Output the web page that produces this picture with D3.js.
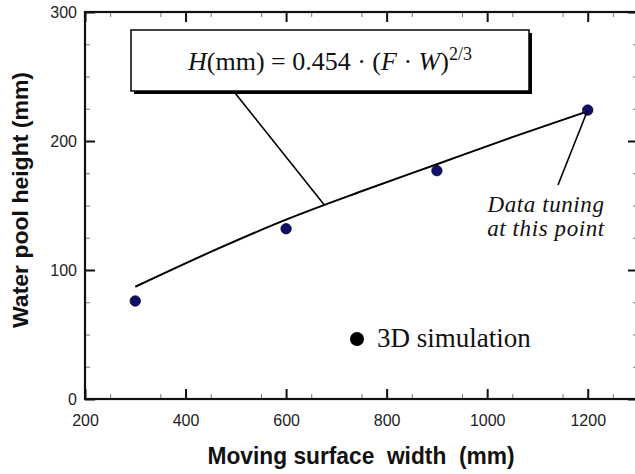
<!DOCTYPE html>
<html><head><meta charset="utf-8">
<script src="https://cdn.jsdelivr.net/npm/d3@7"></script>
<style>
html,body{margin:0;padding:0;background:#fff;}
svg{display:block;}
</style></head>
<body>
<svg id="chart" width="635" height="474"></svg>
<script>
// Data
const simWidths = [300, 600, 900, 1200];
const simHeights = [76, 132, 177, 224];
const fitWidths = [300, 450, 600, 750, 900, 1050, 1200];
const fitHeights = [87, 114, 139, 161, 182, 203, 223];
const xTicks = [200, 400, 600, 800, 1000, 1200];
const yTicks = [0, 100, 200, 300];
const formulaAnchor = [675, 151];   // where the formula leader touches the fit line
const tuningIndex = 3;              // the point used for data tuning

const svg = d3.select("#chart");
const x = d3.scaleLinear().domain([200, 1300]).range([85, 638]);
const y = d3.scaleLinear().domain([0, 300]).range([399, 12]);

// minor ticks
const xMinor = d3.range(250, 1300, 100);
const yMinor = d3.range(25, 300, 25).filter(v => v % 100 !== 0);

const g = svg.append("g");
function axisLines(sel, axis, major) {
  sel.call(axis);
  sel.select(".domain").remove();
  sel.selectAll(".tick line").attr("stroke", major ? "#111" : "#777").attr("stroke-width", major ? 2 : 1);
  sel.selectAll(".tick text").remove();
}
// bottom
axisLines(g.append("g").attr("transform", `translate(0,${y(0)})`), d3.axisTop(x).tickValues(xTicks).tickSize(10), true);
axisLines(g.append("g").attr("transform", `translate(0,${y(0)})`), d3.axisTop(x).tickValues(xMinor).tickSize(5), false);
// top
axisLines(g.append("g").attr("transform", `translate(0,${y(300)})`), d3.axisBottom(x).tickValues(xTicks).tickSize(10), true);
axisLines(g.append("g").attr("transform", `translate(0,${y(300)})`), d3.axisBottom(x).tickValues(xMinor).tickSize(5), false);
// left
axisLines(g.append("g").attr("transform", `translate(${x(200)},0)`), d3.axisRight(y).tickValues(yTicks).tickSize(10), true);
axisLines(g.append("g").attr("transform", `translate(${x(200)},0)`), d3.axisRight(y).tickValues(yMinor).tickSize(5), false);
// right
axisLines(g.append("g").attr("transform", `translate(${x(1300)},0)`), d3.axisLeft(y).tickValues(yTicks).tickSize(10), true);
axisLines(g.append("g").attr("transform", `translate(${x(1300)},0)`), d3.axisLeft(y).tickValues(yMinor).tickSize(5), false);

// frame
g.append("rect").attr("x", x(200)).attr("y", y(300)).attr("width", x(1300) - x(200)).attr("height", y(0) - y(300))
  .attr("fill", "none").attr("stroke", "#111").attr("stroke-width", 2.2);

// tick labels
const xLab = d3.axisBottom(x).tickValues(xTicks).tickSize(0).tickPadding(0).tickFormat(d3.format("d"));
const xl = svg.append("g").attr("transform", `translate(0,${y(0)})`).call(xLab);
xl.select(".domain").remove();
xl.selectAll("text").attr("dy", null).attr("y", 27).style("font", "16px 'Liberation Sans', Arial, sans-serif").attr("fill", "#222");
const yLab = d3.axisLeft(y).tickValues(yTicks).tickSize(0).tickPadding(0).tickFormat(d3.format("d"));
const yl = svg.append("g").attr("transform", `translate(${x(200)},0)`).call(yLab);
yl.select(".domain").remove();
yl.selectAll("text").attr("x", -8).attr("dy", "0.35em").style("font", "16px 'Liberation Sans', Arial, sans-serif").attr("fill", "#222");

// axis titles
svg.append("text").attr("x", 361).attr("y", 464).attr("text-anchor", "middle")
  .attr("textLength", 307).attr("lengthAdjust", "spacingAndGlyphs")
  .style("font", "bold 24px 'Liberation Sans', Arial, sans-serif").style("white-space", "pre").attr("fill", "#111")
  .text("Moving surface  width  (mm)");
svg.append("text").attr("transform", "translate(28,200) rotate(-90)").attr("text-anchor", "middle")
  .attr("textLength", 256).attr("lengthAdjust", "spacingAndGlyphs")
  .style("font", "bold 22px 'Liberation Sans', Arial, sans-serif").attr("fill", "#111")
  .text("Water pool height (mm)");

// fit curve
const line = d3.line().x(d => x(d[0])).y(d => y(d[1])).curve(d3.curveMonotoneX);
svg.append("path").datum(d3.zip(fitWidths, fitHeights)).attr("d", line)
  .attr("fill", "none").attr("stroke", "#000").attr("stroke-width", 2);

// simulation points
svg.selectAll("circle.sim").data(d3.zip(simWidths, simHeights)).join("circle").attr("class", "sim")
  .attr("cx", d => x(d[0])).attr("cy", d => y(d[1])).attr("r", 5.2)
  .attr("fill", "#10106a").attr("stroke", "#050530").attr("stroke-width", 0.8);

// formula box
const box = {x: 131, y: 30, w: 398, h: 61};
svg.append("line").attr("x1", 235).attr("y1", box.y + box.h + 2).attr("x2", x(formulaAnchor[0])).attr("y2", y(formulaAnchor[1]))
  .attr("stroke", "#000").attr("stroke-width", 1.6);
svg.append("rect").attr("x", box.x + 3).attr("y", box.y + 3).attr("width", box.w).attr("height", box.h).attr("fill", "#000");
svg.append("rect").attr("x", box.x).attr("y", box.y).attr("width", box.w).attr("height", box.h)
  .attr("fill", "#fff").attr("stroke", "#000").attr("stroke-width", 1.5);
const ft = svg.append("text").attr("x", 188).attr("y", 70)
  .style("font", "26px 'Liberation Serif', 'Times New Roman', serif").attr("fill", "#111");
ft.append("tspan").style("font-style", "italic").text("H");
ft.append("tspan").text("(mm) = 0.454 · (");
ft.append("tspan").style("font-style", "italic").text("F");
ft.append("tspan").text(" · ");
ft.append("tspan").style("font-style", "italic").text("W");
ft.append("tspan").text(")");
ft.append("tspan").attr("dy", -10).style("font-size", "18px").text("2/3");

// data tuning annotation
svg.append("line").attr("x1", x(simWidths[tuningIndex])).attr("y1", y(simHeights[tuningIndex]))
  .attr("x2", 558).attr("y2", 185).attr("stroke", "#000").attr("stroke-width", 1.6);
const tt = svg.append("text").attr("text-anchor", "middle")
  .style("font", "italic 23px 'Liberation Serif', 'Times New Roman', serif").style("letter-spacing", "0.6px").attr("fill", "#111");
tt.append("tspan").attr("x", 546).attr("y", 212).text("Data tuning");
tt.append("tspan").attr("x", 546).attr("y", 236).text("at this point");

// legend
svg.append("circle").attr("cx", 357).attr("cy", 339).attr("r", 7).attr("fill", "#000");
svg.append("text").attr("x", 377).attr("y", 347)
  .style("font", "27px 'Liberation Serif', 'Times New Roman', serif").attr("fill", "#111").text("3D simulation");
</script>
</body></html>
